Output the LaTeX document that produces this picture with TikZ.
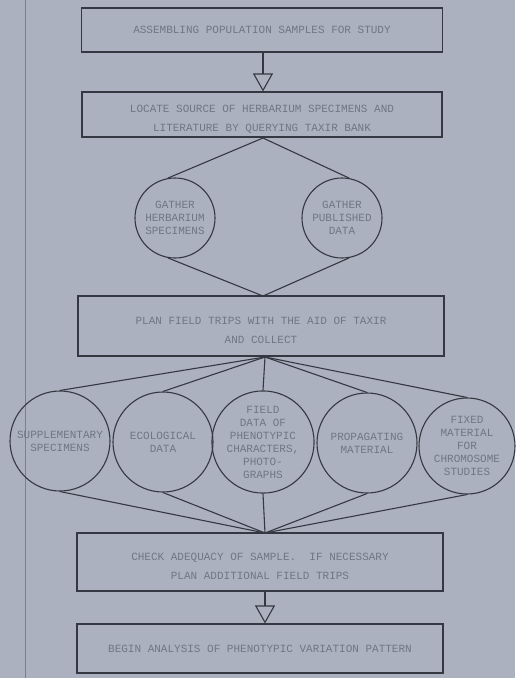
\documentclass[tikz,border=0pt]{standalone}
\usepackage{fontspec}
\newfontfamily\lettering{Liberation Mono}
\usetikzlibrary{arrows.meta}
\definecolor{paper}{RGB}{171,177,191}
\definecolor{ink}{RGB}{52,56,66}
\definecolor{pencil}{RGB}{112,118,130}
\newcommand\topgap{\rule{0pt}{17pt}}
\begin{document}
\begin{tikzpicture}[x=1pt,y=-1pt,
  box/.style={draw=ink,line width=1.1pt,text=pencil,align=center,
    font=\lettering\fontsize{11}{19}\selectfont},
  ring/.style={circle,draw=ink,line width=1.1pt,text=pencil,align=center,
    inner sep=0pt,font=\lettering\fontsize{11}{13}\selectfont},
  link/.style={draw=ink,line width=1.1pt},
  flow/.style={draw=ink,line width=1.1pt,-{Triangle[width=20pt,length=18pt,fill=paper]}}]
\useasboundingbox (0,0) rectangle (515,678);
\fill[paper] (0,0) rectangle (515,678);
\draw[ink!40!paper,line width=1pt] (25,0) -- (25,678);
% steps
\node[box,minimum width=361pt,minimum height=44pt] (assemble) at (262,30) {ASSEMBLING POPULATION SAMPLES FOR STUDY};
\node[box,minimum width=360pt,minimum height=45pt] (locate) at (262,114.5) {\topgap LOCATE SOURCE OF HERBARIUM SPECIMENS AND\\LITERATURE BY QUERYING TAXIR BANK};
\node[box,minimum width=366pt,minimum height=60pt] (plan) at (261,326) {\topgap PLAN FIELD TRIPS WITH THE AID OF TAXIR\\AND COLLECT};
\node[box,minimum width=366pt,minimum height=58pt] (check) at (260,562) {\topgap CHECK ADEQUACY OF SAMPLE.\ \ IF NECESSARY\\PLAN ADDITIONAL FIELD TRIPS};
\node[box,minimum width=366pt,minimum height=49pt] (begin) at (260,648.5) {BEGIN ANALYSIS OF PHENOTYPIC VARIATION PATTERN};
% gathering
\node[ring,minimum size=80pt] (herb) at (175,218) {GATHER\\HERBARIUM\\SPECIMENS};
\node[ring,minimum size=80pt] (publ) at (342,218) {GATHER\\PUBLISHED\\DATA};
\coordinate (up) at (263,138);
\coordinate (down) at (263,296);
\draw[link] (herb.100) -- (up) -- (publ.80);
\draw[link] (herb.260) -- (down) -- (publ.280);
% collecting
\node[ring,minimum size=100pt] (suppl) at (60,441) {SUPPLEMENTARY\\SPECIMENS};
\node[ring,minimum size=100pt] (ecol) at (163,442) {ECOLOGICAL\\DATA};
\node[ring,minimum size=100pt] (field) at (263,442) {FIELD\\DATA OF\\PHENOTYPIC\\CHARACTERS,\\PHOTO-\\GRAPHS};
\node[ring,minimum size=100pt] (prop) at (367,443) {PROPAGATING\\MATERIAL};
\node[ring,minimum size=96pt] (fixed) at (467,446) {FIXED\\MATERIAL\\FOR\\CHROMOSOME\\STUDIES};
\coordinate (fan) at (265,357);
\coordinate (join) at (265,533);
\foreach \c in {suppl,ecol,field,prop,fixed}{
  \draw[link] (fan) -- (\c.north);
  \draw[link] (\c.south) -- (join);
}
% arrows
\draw[flow] (assemble.south -| up) -- (locate.north -| up);
\draw[flow] (check.south -| join) -- (begin.north -| join);
\end{tikzpicture}
\end{document}
